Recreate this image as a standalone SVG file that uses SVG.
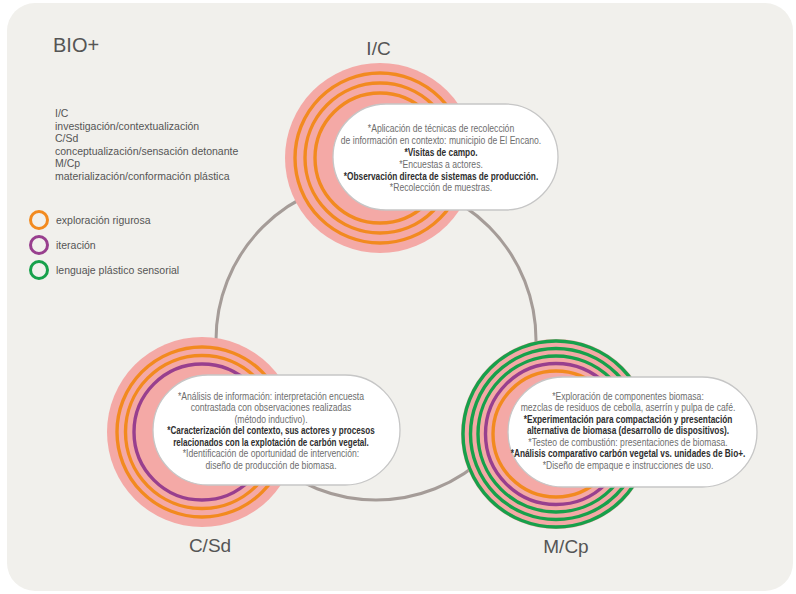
<svg xmlns="http://www.w3.org/2000/svg" width="796" height="594" viewBox="0 0 796 594">
<style>
.lbl{font-family:"Liberation Sans",Arial,sans-serif;fill:#555;}
.big{font-size:19px;text-anchor:middle;}
.leg{font-size:10.5px;fill:#555;}
.t{font-family:"Liberation Sans",Arial,sans-serif;font-size:10.5px;text-anchor:middle;fill:#6e6e6e;}
.b{font-weight:bold;fill:#2e2e2e;}
.disc{fill:#f4a9a6;}
.ring{fill:none;stroke-width:3.4;}
.o{stroke:#f28a1f;}
.p{stroke:#983f8e;}
.g{stroke:#17a04b;}
.pill{fill:#ffffff;stroke:#c6c6c6;stroke-width:1.3;}
.conn{fill:none;stroke:#a59c98;stroke-width:3;}
</style>
<rect x="0" y="0" width="796" height="594" fill="#ffffff"/>
<rect x="7" y="3" width="786" height="588" rx="28" fill="#f1f0ec"/>

<g id="title">
<text class="lbl" x="53" y="52" font-size="20">BIO+</text>
</g>

<g id="legend" class="lbl">
<text class="leg" x="55" y="117">I/C</text>
<text class="leg" x="55" y="129.5">investigación/contextualización</text>
<text class="leg" x="55" y="142">C/Sd</text>
<text class="leg" x="55" y="154.5">conceptualización/sensación detonante</text>
<text class="leg" x="55" y="167">M/Cp</text>
<text class="leg" x="55" y="179.5">materialización/conformación plástica</text>
<circle cx="39" cy="220" r="8.5" fill="none" stroke="#f28a1f" stroke-width="3"/>
<text class="leg" x="56" y="224">exploración rigurosa</text>
<circle cx="39" cy="245" r="8.5" fill="none" stroke="#983f8e" stroke-width="3"/>
<text class="leg" x="56" y="249">iteración</text>
<circle cx="39" cy="270" r="8.5" fill="none" stroke="#17a04b" stroke-width="3"/>
<text class="leg" x="56" y="274">lenguaje plástico sensorial</text>
</g>

<g id="connectors">
<circle class="conn" cx="376" cy="340" r="160"/>
</g>

<g id="node-ic">
<circle class="disc" cx="380" cy="158" r="95"/>
<circle class="ring o" cx="380" cy="158" r="85"/>
<circle class="ring o" cx="380" cy="158" r="75"/>
<circle class="ring o" cx="380" cy="158" r="65"/>
<rect class="pill" x="333" y="104" width="225" height="106" rx="53"/>
<text class="t" transform="translate(441,131.5) scale(0.82,1)">*Aplicación de técnicas de recolección</text>
<text class="t" transform="translate(441,144) scale(0.82,1)">de información en contexto: municipio de El Encano.</text>
<text class="t b" transform="translate(441,156) scale(0.79,1)">*Visitas de campo.</text>
<text class="t" transform="translate(441,167.7) scale(0.82,1)">*Encuestas a actores.</text>
<text class="t b" transform="translate(441,179.5) scale(0.79,1)">*Observación directa de sistemas de producción.</text>
<text class="t" transform="translate(441,191) scale(0.82,1)">*Recolección de muestras.</text>
<text class="lbl big" x="378.5" y="55">I/C</text>
</g>

<g id="node-csd">
<circle class="disc" cx="202" cy="432" r="95"/>
<circle class="ring o" cx="202" cy="432" r="85"/>
<circle class="ring o" cx="202" cy="432" r="76.5"/>
<circle class="ring p" cx="202" cy="432" r="68"/>
<rect class="pill" x="153" y="375" width="247" height="110" rx="55"/>
<text class="t" transform="translate(271,399.5) scale(0.82,1)">*Análisis de información: interpretación encuesta</text>
<text class="t" transform="translate(271,411) scale(0.82,1)">contrastada con observaciones realizadas</text>
<text class="t" transform="translate(271,422.5) scale(0.82,1)">(método inductivo).</text>
<text class="t b" transform="translate(271,434) scale(0.77,1)">*Caracterización del contexto, sus actores y procesos</text>
<text class="t b" transform="translate(271,445.5) scale(0.77,1)">relacionados con la explotación de carbón vegetal.</text>
<text class="t" transform="translate(271,457) scale(0.82,1)">*Identificación de oportunidad de intervención:</text>
<text class="t" transform="translate(271,468.5) scale(0.82,1)">diseño de producción de biomasa.</text>
<text class="lbl big" x="210" y="552">C/Sd</text>
</g>

<g id="node-mcp">
<circle class="disc" cx="556" cy="434" r="95"/>
<circle class="ring g" cx="556" cy="434" r="93"/>
<circle class="ring g" cx="556" cy="434" r="85.5"/>
<circle class="ring g" cx="556" cy="434" r="78"/>
<circle class="ring p" cx="556" cy="434" r="70.5"/>
<circle class="ring o" cx="556" cy="434" r="63"/>
<rect class="pill" x="508" y="377" width="249" height="110" rx="55"/>
<text class="t" transform="translate(628,399.5) scale(0.82,1)">*Exploración de componentes biomasa:</text>
<text class="t" transform="translate(628,411) scale(0.82,1)">mezclas de residuos de cebolla, aserrín y pulpa de café.</text>
<text class="t b" transform="translate(628,422.5) scale(0.79,1)">*Experimentación para compactación y presentación</text>
<text class="t b" transform="translate(628,434) scale(0.79,1)">alternativa de biomasa (desarrollo de dispositivos).</text>
<text class="t" transform="translate(628,445.5) scale(0.82,1)">*Testeo de combustión: presentaciones de biomasa.</text>
<text class="t b" transform="translate(628,457) scale(0.79,1)">*Análisis comparativo carbón vegetal vs. unidades de Bio+.</text>
<text class="t" transform="translate(628,468.5) scale(0.82,1)">*Diseño de empaque e instrucciones de uso.</text>
<text class="lbl big" x="566" y="553">M/Cp</text>
</g>
</svg>
